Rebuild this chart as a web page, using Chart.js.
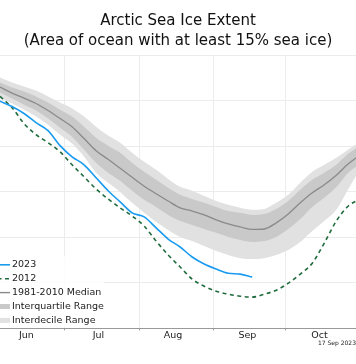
<!DOCTYPE html>
<html><head><meta charset="utf-8">
<script src="https://cdn.jsdelivr.net/npm/chart.js@4.4.0/dist/chart.umd.min.js"></script>
<style>html,body{margin:0;padding:0;background:#fff;overflow:hidden}#wrap{position:relative;width:356px;height:364px}</style>
</head><body><div id="wrap"><canvas id="c" width="356" height="364"></canvas></div>
<script>
// Day of year (2023, non-leap)
const days = [155,160,165,170,175,180,185,190,195,200,205,210,215,220,225,230,235,240,245,250,255,260,265,270,275,280,285,290,295,300,305];
// Extent in million km²
const idrTop = [13.01,12.79,12.62,12.44,12.18,11.91,11.65,11.30,10.85,10.46,10.15,9.71,9.31,8.96,8.56,8.21,8.04,7.81,7.59,7.42,7.29,7.20,7.24,7.51,7.86,8.39,8.87,9.18,9.49,9.85,10.19];
const iqrTop = [12.79,12.57,12.40,12.18,11.91,11.60,11.30,10.85,10.37,10.02,9.71,9.27,8.87,8.52,8.17,7.86,7.68,7.51,7.33,7.15,7.07,6.98,7.02,7.24,7.59,8.08,8.52,8.83,9.18,9.67,10.02];
const median = [12.59,12.33,12.11,11.87,11.56,11.21,10.85,10.33,9.80,9.42,9.03,8.63,8.24,7.91,7.59,7.29,7.15,6.98,6.76,6.58,6.45,6.34,6.36,6.63,7.02,7.51,7.95,8.30,8.72,9.22,9.62];
const iqrBot = [12.35,12.09,11.82,11.56,11.21,10.81,10.41,9.84,9.27,8.83,8.48,8.04,7.64,7.33,6.98,6.71,6.54,6.36,6.19,6.01,5.88,5.79,5.83,6.01,6.36,6.80,7.33,7.73,8.20,8.83,9.22];
const idrBot = [12.13,11.87,11.60,11.30,10.94,10.50,10.11,9.53,8.83,8.39,7.99,7.51,7.07,6.67,6.32,6.01,5.83,5.61,5.39,5.22,5.08,5.04,5.08,5.22,5.44,5.79,6.27,6.71,7.20,8.12,9.00];
const ext2012 = [12.18,11.69,10.99,10.50,10.15,9.75,9.18,8.65,8.12,7.68,7.29,6.93,6.49,5.83,5.22,4.69,4.16,3.85,3.63,3.50,3.41,3.37,3.50,3.67,3.98,4.38,4.86,5.74,6.71,7.37,7.68];
const days2023 = [155,160,165,170,175,180,185,190,195,200,205,210,215,220,225,230,235,240,245,250,255,260];
const ext2023 = [11.97,11.74,11.43,11.03,10.68,10.02,9.53,9.18,8.61,8.04,7.55,7.07,6.89,6.41,5.92,5.57,5.13,4.82,4.60,4.42,4.38,4.25];
// Axis ticks
const monthStarts = [182,213,244,274];
const monthLabelDays = [166,196,227,258,288];
const monthLabels = ['Jun','Jul','Aug','Sep','Oct'];
const yTicks = [2,4,6,8,10,12,14];
const seriesNames = ['2023','2012','1981-2010 Median','Interquartile Range','Interdecile Range'];
const titleLines = ['Arctic Sea Ice Extent','(Area of ocean with at least 15% sea ice)'];
const dateNote = '17 Sep 2023';

const pts = (xs, ys) => xs.map((x,i)=>({x:x, y:ys[i]}));
const C_BLUE = '#1a9bf0', C_GREEN = '#1e6b3c', C_MED = '#8a8a8a', C_IQR = '#c9c9c9', C_IDR = '#e1e1e1';
Chart.defaults.font.family = '"DejaVu Sans", sans-serif';
Chart.defaults.color = '#222';

const legendRows = [
  {label: seriesNames[0], color: C_BLUE, width: 1.6, dash: []},
  {label: seriesNames[1], color: C_GREEN, width: 1.6, dash: [4,3.5]},
  {label: seriesNames[2], color: C_MED, width: 1.4, dash: []},
  {label: seriesNames[3], color: C_IQR, width: 5, dash: []},
  {label: seriesNames[4], color: C_IDR, width: 5, dash: []}
];
const legendPlugin = {
  id: 'cornerLegend',
  afterDatasetsDraw(chart) {
    const ctx = chart.ctx, a = chart.chartArea;
    ctx.save();
    ctx.fillStyle = 'rgba(255,255,255,0.85)';
    ctx.beginPath();
    if (ctx.roundRect) ctx.roundRect(a.left-8, a.bottom-72, 112, 71, 3); else ctx.rect(a.left-8, a.bottom-72, 112, 71);
    ctx.fill();
    legendRows.forEach((r,i)=>{
      const y = a.bottom - 63.5 + i*13.9;
      ctx.beginPath();
      ctx.setLineDash(r.dash);
      ctx.lineWidth = r.width; ctx.strokeStyle = r.color;
      ctx.moveTo(a.left-10, y); ctx.lineTo(a.left+10, y); ctx.stroke();
      ctx.setLineDash([]);
      ctx.fillStyle = '#222';
      ctx.font = '9.5px "DejaVu Sans"';
      ctx.textBaseline = 'middle'; ctx.textAlign = 'left';
      ctx.fillText(r.label, a.left+12, y);
    });
    ctx.restore();
  }
};

const line = {pointRadius:0, cubicInterpolationMode:'monotone', borderCapStyle:'butt'};
new Chart(document.getElementById('c'), {
  type: 'line',
  data: { datasets: [
    Object.assign({label: seriesNames[0], data: pts(days2023, ext2023), borderColor: C_BLUE, borderWidth: 1.6, fill:false, order:0}, line),
    Object.assign({label: seriesNames[1], data: pts(days, ext2012), borderColor: C_GREEN, borderWidth: 1.6, borderDash:[4,3.5], fill:false, order:1}, line),
    Object.assign({label: seriesNames[2], data: pts(days, median), borderColor: C_MED, borderWidth: 1.3, fill:false, order:2}, line),
    Object.assign({label: seriesNames[3], data: pts(days, iqrTop), borderWidth: 0, borderColor:'rgba(0,0,0,0)', backgroundColor: C_IQR, fill: 4, order:3}, line),
    Object.assign({label: 'iqrBot', data: pts(days, iqrBot), borderWidth: 0, borderColor:'rgba(0,0,0,0)', fill:false, order:4}, line),
    Object.assign({label: seriesNames[4], data: pts(days, idrTop), borderWidth: 0, borderColor:'rgba(0,0,0,0)', backgroundColor: C_IDR, fill: 6, order:5}, line),
    Object.assign({label: 'idrBot', data: pts(days, idrBot), borderWidth: 0, borderColor:'rgba(0,0,0,0)', fill:false, order:6}, line)
  ]},
  options: {
    responsive: false, animation: false,
    layout: {padding: {left:0, right:0, top:0, bottom:17}},
    plugins: {
      legend: {display:false}, tooltip: {enabled:false},
      title: {display:true, text: titleLines, font:{size:15, weight:'normal', lineHeight: 20/15}, color:'#111', padding:{top:11.5, bottom:3.5}},
      subtitle: {display:true, text: dateNote, position:'bottom', align:'end', font:{size:6}, color:'#222', padding:{top:0, bottom:0}}
    },
    scales: {
      x: {type:'linear', min:155, max:303.2, position:'bottom', weight:0,
          afterBuildTicks: s => { s.ticks = monthStarts.map(v=>({value:v})); },
          ticks:{display:false},
          grid:{color:'#ececec', lineWidth:1, drawTicks:true, tickLength:2, tickColor:'#999'},
          border:{display:true, color:'#999', width:1}},
      xl: {type:'linear', min:155, max:303.2, position:'bottom', weight:1,
          afterBuildTicks: s => { s.ticks = monthLabelDays.map(v=>({value:v})); },
          ticks:{display:true, autoSkip:false, maxRotation:0, padding:0, font:{size:9.5, lineHeight:1}, color:'#222',
                 callback:(v,i)=>monthLabels[i]},
          grid:{display:false, drawTicks:false}, border:{display:false}},
      y: {type:'linear', min:2, max:14,
          afterBuildTicks: s => { s.ticks = yTicks.map(v=>({value:v})); },
          ticks:{display:false},
          grid:{color:'#ececec', lineWidth:1, drawTicks:false},
          border:{display:false}}
    }
  },
  plugins: [legendPlugin]
});
</script></body></html>
